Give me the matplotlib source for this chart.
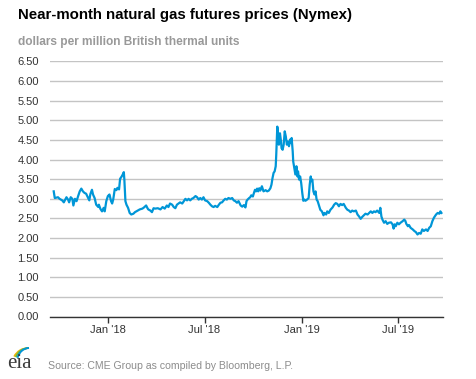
import numpy as np
import pandas as pd
import matplotlib
matplotlib.use('Agg')
import matplotlib.pyplot as plt
from matplotlib.patches import Arc

# Near-month Henry Hub futures
# days counted from 1 Jan 2018, price in dollars per MMBtu
base_date = '2018-01-01'
days = [
    -103, -101, -95, -92, -87, -84, -79, -76, -74, -71, -68, -66, -63, -60, -57, -54,
    -51, -48, -45, -42, -38, -36, -34, -31, -29, -26, -23, -19, -18, -15, -12, -9,
    -7, -4, -1, 2, 5, 7, 9, 12, 15, 17, 20, 22, 25, 27, 29, 30, 32, 34, 37, 40,
    43, 47, 50, 55, 59, 64, 67, 71, 74, 75, 79, 82, 85, 88, 93, 98, 102, 106, 110,
    113, 116, 120, 123, 126, 129, 132, 135, 139, 142, 145, 148, 151, 154, 157, 160,
    164, 167, 170, 173, 176, 179, 182, 186, 189, 192, 195, 198, 201, 205, 208, 211,
    214, 217, 220, 223, 226, 230, 233, 236, 239, 242, 245, 249, 252, 255, 258, 260,
    262, 265, 267, 269, 272, 274, 276, 278, 280, 282, 284, 286, 289, 291, 292, 296,
    299, 302, 305, 307, 309, 311, 313, 315, 316, 318, 319, 321, 323, 325, 326, 328,
    330, 332, 334, 336, 338, 340, 342, 343, 345, 347, 348, 350, 352, 354, 356, 357,
    359, 361, 363, 365, 367, 369, 371, 374, 377, 379, 381, 382, 384, 386, 388, 390,
    392, 394, 397, 399, 402, 405, 407, 410, 412, 415, 418, 422, 425, 428, 431, 434,
    437, 440, 443, 447, 450, 453, 456, 459, 462, 466, 469, 472, 475, 478, 481, 484,
    488, 491, 494, 497, 500, 503, 506, 510, 512, 514, 516, 519, 522, 525, 528, 532,
    535, 537, 539, 541, 544, 547, 550, 554, 557, 559, 561, 564, 566, 569, 573, 576,
    579, 582, 585, 588, 591, 594, 598, 601, 604, 607, 610, 613, 617, 620, 623, 625,
    627,
]
prices = [
    3.19, 3.02, 3.04, 3.00, 2.96, 2.91, 3.04, 2.98, 2.91, 3.04, 3.00, 2.83, 3.00, 2.94, 3.07, 3.19,
    3.26, 3.19, 3.15, 3.13, 3.02, 2.96, 3.12, 3.23, 3.11, 3.02, 2.85, 2.79, 2.85, 2.74, 2.68, 2.77,
    2.68, 2.94, 3.07, 3.11, 2.94, 2.88, 2.98, 3.25, 3.22, 3.28, 3.24, 3.51, 3.57, 3.62, 3.68, 3.49, 2.94, 2.85, 2.77, 2.64,
    2.60, 2.62, 2.66, 2.70, 2.73, 2.75, 2.78, 2.83, 2.75, 2.73, 2.70, 2.66, 2.76, 2.75, 2.76, 2.73, 2.79, 2.75, 2.83,
    2.79, 2.88, 2.85, 2.79, 2.76, 2.85, 2.88, 2.91, 2.88, 2.94, 3.00, 2.96, 3.00, 2.96, 3.00, 3.02,
    3.07, 3.04, 2.98, 3.02, 2.98, 3.04, 2.96, 2.94, 2.90, 2.85, 2.81, 2.79, 2.82, 2.79, 2.85, 2.90,
    2.91, 2.96, 3.00, 2.98, 3.02, 3.00, 3.02, 2.96, 2.94, 2.90, 2.94, 2.83, 2.80, 2.84, 2.78, 2.94,
    2.98, 3.02, 3.04, 3.09, 3.06, 3.15, 3.23, 3.19, 3.26, 3.19, 3.27, 3.21, 3.32, 3.23, 3.19, 3.22,
    3.19, 3.21, 3.27, 3.36, 3.53, 3.66, 3.70, 3.83, 4.12, 4.84, 4.72, 4.38, 4.67, 4.46, 4.29, 4.25,
    4.38, 4.72, 4.59, 4.38, 4.46, 4.34, 4.51, 4.42, 4.55, 4.21, 3.95, 3.78, 3.62, 3.83, 3.57, 3.70,
    3.49, 3.57, 3.40, 3.15, 2.95, 2.98, 2.95, 2.98, 3.02, 3.36, 3.57, 3.45, 3.49, 3.19, 3.11, 3.19,
    2.98, 2.94, 2.81, 2.72, 2.68, 2.58, 2.64, 2.60, 2.68, 2.64, 2.72, 2.78, 2.85, 2.89, 2.87, 2.81,
    2.87, 2.84, 2.87, 2.77, 2.72, 2.70, 2.66, 2.70, 2.68, 2.70, 2.60, 2.55, 2.49, 2.54, 2.58, 2.62,
    2.60, 2.64, 2.68, 2.64, 2.68, 2.66, 2.70, 2.64, 2.77, 2.55, 2.47, 2.39, 2.43, 2.36, 2.39, 2.40,
    2.35, 2.24, 2.35, 2.30, 2.39, 2.35, 2.39, 2.43, 2.47, 2.44, 2.36, 2.30, 2.33, 2.26, 2.22, 2.18,
    2.15, 2.09, 2.13, 2.11, 2.22, 2.18, 2.22, 2.18, 2.26, 2.30, 2.43, 2.52, 2.60, 2.64, 2.62, 2.68,
    2.64,
]
tick_dates = ['2018-01-01', '2018-07-01', '2019-01-01', '2019-07-01']
tick_labels = ["Jan '18", "Jul '18", "Jan '19", "Jul '19"]
y_ticks = np.arange(0, 6.51, 0.5)

title = 'Near-month natural gas futures prices (Nymex)'
subtitle = 'dollars per million British thermal units'
source = 'Source: CME Group as compiled by Bloomberg, L.P.'

plt.rcParams['font.family'] = ['Liberation Sans', 'DejaVu Sans']

dates = pd.Timestamp(base_date) + pd.to_timedelta(days, unit='D')

fig = plt.figure(figsize=(4.77, 3.79), dpi=100)
ax = fig.add_axes([50 / 477, 1 - 316.5 / 379, 393 / 477, 255 / 379])

ax.plot(dates, prices, color='#0096d7', linewidth=1.6, solid_joinstyle='round')

ax.set_ylim(0, 6.5)
ax.set_xlim(pd.Timestamp('2017-09-13'), pd.Timestamp('2019-09-23'))
ax.set_yticks(y_ticks)
ax.set_yticklabels([f'{v:.2f}' for v in y_ticks])
ax.set_xticks(pd.to_datetime(tick_dates))
ax.set_xticklabels(tick_labels)

ax.grid(axis='y', color='#c4c4c4', linewidth=1.0)
ax.set_axisbelow(True)
for s in ['top', 'right', 'left']:
    ax.spines[s].set_visible(False)
ax.spines['bottom'].set_color('#333333')
ax.spines['bottom'].set_linewidth(1.0)
ax.tick_params(axis='y', length=0, pad=8, labelsize=8, labelcolor='#333333')
ax.tick_params(axis='x', length=4, width=1, color='#333333', pad=2, labelsize=8, labelcolor='#333333')

fig.text(18 / 477, 1 - 15 / 379, title, fontsize=10.8, fontweight='bold', color='#000000', va='center', ha='left')
fig.text(18 / 477, 1 - 42 / 379, subtitle, fontsize=8.6, fontweight='bold', color='#999999', va='center', ha='left')
fig.text(48 / 477, 1 - 366 / 379, source, fontsize=7.6, color='#8c8c8c', va='center', ha='left')

# eia logo: serif word with three arcs above
fig.text(7 / 477, 1 - 364 / 379, 'eia', fontsize=15, family='Liberation Serif', color='#3a3a3a', va='center', ha='left')
lax = fig.add_axes([10 / 477, 1 - 358 / 379, 26 / 477, 14 / 379])
lax.set_xlim(0, 26)
lax.set_ylim(0, 14)
lax.axis('off')
for (w, c) in [(32, '#f2b705'), (28, '#6bb644'), (24, '#0096d7')]:
    lax.add_patch(Arc((19, -4), w, 28, theta1=90, theta2=160, color=c, linewidth=1.4))

fig.savefig('out.png', dpi=100)
